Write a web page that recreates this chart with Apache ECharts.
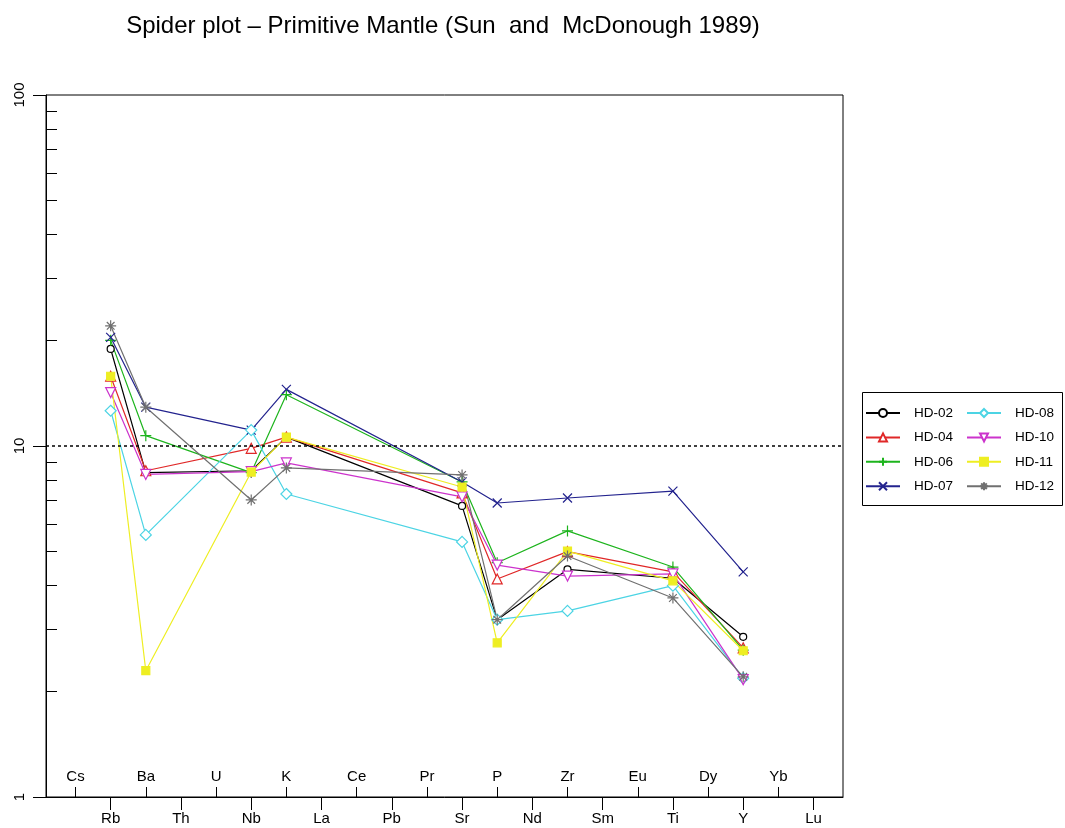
<!DOCTYPE html>
<html>
<head>
<meta charset="utf-8">
<title>Spider plot</title>
<script src="https://cdn.jsdelivr.net/npm/echarts@6/dist/echarts.min.js"></script>
<style>
  html, body { margin: 0; padding: 0; background: #fff; }
  #chart { width: 1065px; height: 828px; }
</style>
</head>
<body>
<div id="chart"></div>
<script>
// element order on the x axis
var elements = ['Cs','Rb','Ba','Th','U','Nb','K','La','Ce','Pb','Pr','Sr','P','Nd','Zr','Sm','Eu','Ti','Dy','Y','Yb','Lu'];
// elements that have values, in the same order as the sample arrays below
var measured = ['Rb','Ba','Nb','K','Sr','P','Zr','Ti','Y'];

// normalised to primitive mantle
var hd02 = [18.9, 8.4, 8.5, 10.6, 6.75, 3.2, 4.45, 4.2, 2.86];
var hd04 = [15.8, 8.5, 9.85, 10.6, 7.35, 4.18, 5.0, 4.38, 2.66];
var hd06 = [20.0, 10.7, 8.4, 14.0, 7.9, 4.65, 5.73, 4.52, 2.62];
var hd07 = [20.4, 12.9, 11.1, 14.5, 7.9, 6.88, 7.11, 7.44, 4.38];
var hd08 = [12.6, 5.58, 11.1, 7.3, 5.33, 3.2, 3.39, 4.0, 2.18];
var hd10 = [14.2, 8.3, 8.45, 8.95, 7.16, 4.58, 4.26, 4.32, 2.16];
var hd11 = [15.8, 2.29, 8.43, 10.6, 7.64, 2.75, 5.02, 4.13, 2.61];
var hd12 = [22.0, 12.9, 7.02, 8.66, 8.27, 3.2, 4.86, 3.69, 2.2];

var yTicks = [1, 10, 100];
var yMinorTicks = [2, 3, 4, 5, 6, 7, 8, 9, 20, 30, 40, 50, 60, 70, 80, 90];
var refLine = 10;

var font = 'Liberation Sans, Arial, sans-serif';

// x positions 1..22, upper row of labels = odd, lower row = even
var upperTicks = [], lowerTicks = [];
elements.forEach(function (el, i) {
    if (i % 2 == 0) upperTicks.push(i + 1); else lowerTicks.push(i + 1);
});

function toPoints(values) {
    return values.map(function (v, i) {
        return [elements.indexOf(measured[i]) + 1, v];
    });
}

var plusPath = 'path://M5 0 L5 10 M0 5 L10 5';
var crossPath = 'path://M0 0 L10 10 M10 0 L0 10';
var starPath = 'path://M5 0 L5 10 M0 5 L10 5 M1.5 1.5 L8.5 8.5 M8.5 1.5 L1.5 8.5';

function makeSeries(name, values, color, symbol, size, fill, rotate) {
    return {
        name: name,
        type: 'line',
        data: toPoints(values),
        symbol: symbol,
        symbolSize: size,
        symbolRotate: rotate || 0,
        showAllSymbol: true,
        color: color,
        lineStyle: { color: color, width: 1.2 },
        itemStyle: { color: fill, borderColor: color, borderWidth: 1.2 },
        emphasis: { disabled: true },
        animation: false,
        z: 3
    };
}

var series = [
    makeSeries('HD-02', hd02, '#000000', 'circle', 7, '#ffffff'),
    makeSeries('HD-04', hd04, '#e02828', 'triangle', 10, '#ffffff'),
    makeSeries('HD-06', hd06, '#1db41d', plusPath, 11, '#1db41d'),
    makeSeries('HD-07', hd07, '#23238e', crossPath, 9, '#23238e'),
    makeSeries('HD-08', hd08, '#4cd4e4', 'diamond', 11, '#ffffff'),
    makeSeries('HD-10', hd10, '#cc33cc', 'triangle', 10, '#ffffff', 180),
    makeSeries('HD-11', hd11, '#eeee22', 'rect', 8, '#eeee22'),
    makeSeries('HD-12', hd12, '#707070', starPath, 11, '#707070')
];

// dotted reference line at 10
series[0].markLine = {
    silent: true,
    symbol: 'none',
    label: { show: false },
    lineStyle: { color: '#000', type: [3, 3], width: 1.5 },
    data: [{ yAxis: refLine }],
    animation: false
};

function labelFor(v) { return elements[Math.round(v) - 1]; }

var legendBase = {
    orient: 'vertical', top: 405, padding: 0,
    itemWidth: 34, itemHeight: 10, itemGap: 8.4,
    textStyle: { fontFamily: font, fontSize: 13.5, color: '#000', padding: [0, 0, 0, 9], lineHeight: 16 }
};

var chart = echarts.init(document.querySelector('#chart'));
chart.setOption({
    backgroundColor: '#fff',
    animation: false,
    graphic: [
        {
            type: 'text', x: 443, y: 26,
            style: { text: 'Spider plot \u2013 Primitive Mantle (Sun  and  McDonough 1989)',
                fontSize: 24, fontFamily: font, fill: '#000', align: 'center', verticalAlign: 'middle' }
        },
        {
            type: 'rect', shape: { x: 862.5, y: 392.5, width: 200, height: 113 },
            style: { fill: 'none', stroke: '#000', lineWidth: 1 }
        }
    ],
    grid: { left: 46, right: 222, top: 95, bottom: 31, show: true, borderColor: '#000', borderWidth: 1 },
    legend: [
        Object.assign({}, legendBase, { data: ['HD-02', 'HD-04', 'HD-06', 'HD-07'], left: 865 }),
        Object.assign({}, legendBase, { data: ['HD-08', 'HD-10', 'HD-11', 'HD-12'], left: 966 })
    ],
    xAxis: [
        {
            type: 'value', min: 0.16, max: 22.84, position: 'bottom',
            axisLine: { show: true, lineStyle: { color: '#000', width: 1 } },
            axisTick: { show: true, length: 13, customValues: lowerTicks, lineStyle: { color: '#000' } },
            axisLabel: { customValues: lowerTicks, formatter: labelFor, margin: 14,
                fontFamily: font, fontSize: 15, color: '#000' },
            splitLine: { show: false }
        },
        {
            type: 'value', min: 0.16, max: 22.84, position: 'bottom', offset: 0,
            axisLine: { show: false },
            axisTick: { show: true, inside: true, length: 10, customValues: upperTicks, lineStyle: { color: '#000' } },
            axisLabel: { inside: true, customValues: upperTicks, formatter: labelFor, margin: 13,
                fontFamily: font, fontSize: 15, color: '#000' },
            splitLine: { show: false }
        }
    ],
    yAxis: [
        {
            type: 'log', logBase: 10, min: 1, max: 100,
            axisLine: { show: true, lineStyle: { color: '#000' } },
            axisTick: { show: true, length: 13, customValues: yTicks, lineStyle: { color: '#000' } },
            axisLabel: { customValues: yTicks, rotate: 90, margin: 19,
                fontFamily: font, fontSize: 15, color: '#000',
                formatter: function (v) { return String(Math.round(v)); } },
            splitLine: { show: false }
        },
        {
            type: 'log', logBase: 10, min: 1, max: 100, position: 'left',
            axisLine: { show: false },
            axisTick: { show: true, inside: true, length: 11, customValues: yMinorTicks, lineStyle: { color: '#000' } },
            axisLabel: { show: false },
            splitLine: { show: false }
        }
    ],
    series: series
});
</script>
</body>
</html>
